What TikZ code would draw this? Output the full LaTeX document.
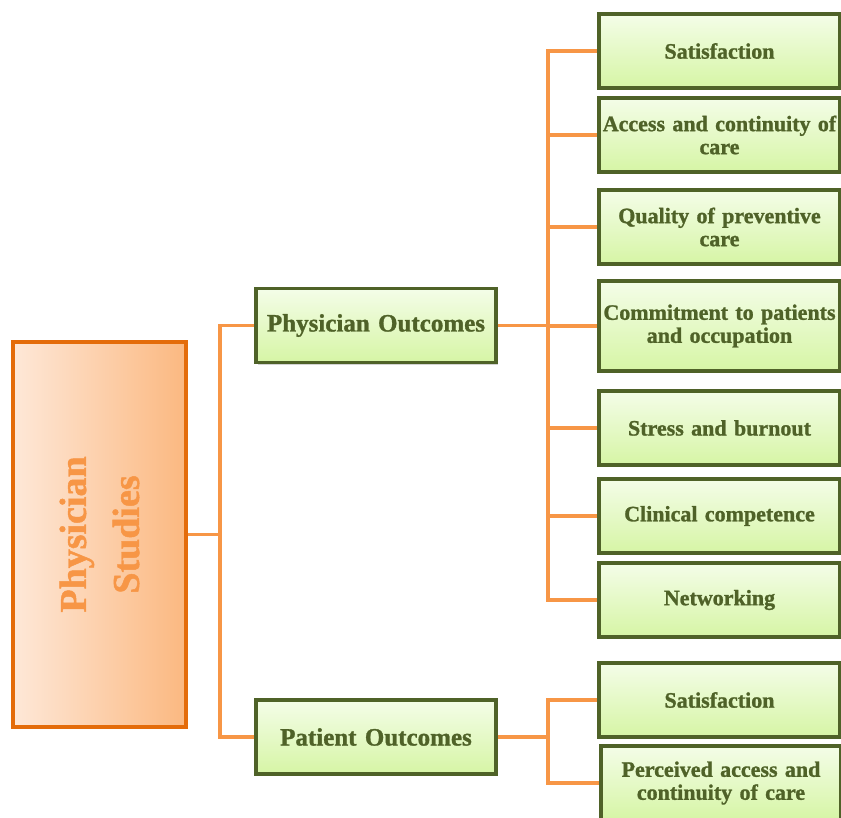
\documentclass[tikz,border=0pt]{standalone}
\usepackage{fontspec}
\setmainfont{Liberation Serif}[BoldFeatures={FakeBold=1.2}]
\usepackage{tikz}
\usetikzlibrary{calc,shadows,positioning}
\definecolor{linkorange}{HTML}{F79646}
\definecolor{rootedge}{HTML}{E46C0A}
\definecolor{leafedge}{HTML}{4F6228}
\newcommand{\clrlink}{linkorange}
\newcommand{\clrleaf}{leafedge}

\begin{document}
\begin{tikzpicture}[x=1pt, y=-1pt,
    leaf/.style={draw=\clrleaf, line width=3.2pt, top color={rgb,255:red,244;green,253;blue,232},
        bottom color={rgb,255:red,214;green,245;blue,165}, minimum width=241pt, minimum height=74pt,
        text width=238pt, align=center, inner sep=1pt, text=\clrleaf,
        font=\bfseries\fontsize{22}{23}\selectfont,
        drop shadow={opacity=0.35, shadow xshift=2pt, shadow yshift=-2pt}},
    branch/.style={leaf, minimum width=240pt, font=\bfseries\fontsize{25}{27}\selectfont},
    link/.style={draw=\clrlink, line width=3.4pt}]
    \useasboundingbox (0,0) rectangle (841,817);

    % root box, turned on its side
    \node[draw=rootedge, line width=3.2pt, rotate=90, minimum width=385pt, minimum height=173pt,
        left color={rgb,255:red,254;green,232;blue,216}, right color={rgb,255:red,251;green,184;blue,128},
        align=center, text=\clrlink, font=\bfseries\fontsize{38}{53}\selectfont,
        drop shadow={opacity=0.35, shadow xshift=-2pt, shadow yshift=-2pt}]
        (root) at (99.5,534.5) {Physician\\Studies};

    \node[branch] (phys) at (376,325.5) {Physician Outcomes};
    \node[branch] (pat) at (376,737) {Patient Outcomes};

    \foreach \y/\txt [count=\i] in {51/Satisfaction, 135/{Access and continuity of\\care},
        227/{Quality of preventive\\care}, 428/Stress and burnout,
        516/Clinical competence, 600/Networking} {
        \node[leaf] (pleaf\i) at (719.5,\y) {\txt};
    }
    \node[leaf, minimum height=90pt] (pleaf7) at (719.5,326) {Commitment to patients\\and occupation};

    \node[leaf] (qleaf1) at (719.5,700) {Satisfaction};
    \node[leaf, minimum width=238pt] (qleaf2) at (721,783) {Perceived access and\\continuity of care};

    % connectors
    \coordinate (rootfork) at (220,534.5);
    \draw[link] (root.south) -- (rootfork);
    \draw[link] (rootfork) |- (phys.west);
    \draw[link] (rootfork) |- (pat.west);

    \coordinate (physfork) at (548,325.5);
    \draw[link] (phys.east) -- (physfork);
    \foreach \i in {1,...,7} {
        \draw[link] (physfork) |- (pleaf\i.west);
    }

    \coordinate (patfork) at (548,737);
    \draw[link] (pat.east) -- (patfork);
    \foreach \i in {1,2} {
        \draw[link] (patfork) |- (qleaf\i.west);
    }
\end{tikzpicture}
\end{document}
